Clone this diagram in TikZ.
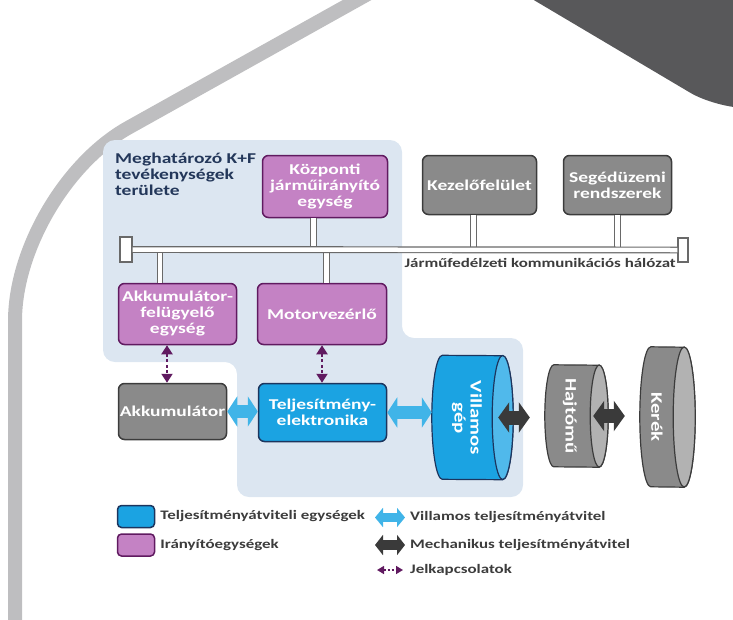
\documentclass[tikz,border=0pt]{standalone}
\usepackage{fontspec}
\setmainfont[FakeStretch=1.3]{Carlito}
\usetikzlibrary{positioning,arrows.meta}

\definecolor{ctrlfill}{RGB}{196,130,196}
\definecolor{ctrldraw}{RGB}{96,26,96}
\definecolor{powfill}{RGB}{27,163,226}
\definecolor{powend}{RGB}{80,185,235}
\definecolor{powdraw}{RGB}{28,53,94}
\definecolor{othfill}{RGB}{138,138,138}
\definecolor{othend}{RGB}{178,178,178}
\definecolor{othdraw}{RGB}{60,60,60}
\definecolor{zone}{RGB}{220,230,241}
\definecolor{zonetext}{RGB}{35,55,90}
\definecolor{elecblue}{RGB}{64,180,232}
\definecolor{mechgray}{RGB}{58,58,58}
\definecolor{busgray}{RGB}{105,105,105}
\definecolor{band}{RGB}{190,190,192}
\definecolor{corner}{RGB}{88,88,90}
\definecolor{legtext}{RGB}{60,60,60}

\begin{document}
\begin{tikzpicture}[x=1pt,y=-1pt,
   box/.style={rounded corners=6pt,line width=1.5pt,text=white,align=center,
      inner sep=1pt,font=\bfseries\fontsize{15}{16}\selectfont},
   ctrl/.style={box,fill=ctrlfill,draw=ctrldraw},
   power/.style={box,fill=powfill,draw=powdraw},
   other/.style={box,fill=othfill,draw=othdraw},
   drumtxt/.style={rotate=-90,text=white,align=center,
      font=\bfseries\fontsize{16}{16}\selectfont},
   term/.style={draw=busgray,fill=white,line width=1.2pt,inner sep=0pt},
   bus/.style={draw=busgray,line width=1.2pt,double=white,double distance=4.5pt},
   elec/.style={elecblue,line width=13pt,
      {Triangle[length=10pt,width=30pt]}-{Triangle[length=10pt,width=30pt]}},
   mech/.style={mechgray,line width=14pt,
      {Triangle[length=11pt,width=30pt]}-{Triangle[length=11pt,width=30pt]}},
   sig/.style={ctrldraw,line width=2pt,dash pattern=on 3pt off 2.5pt,
      {Triangle[length=9pt,width=11pt]}-{Triangle[length=9pt,width=11pt]}},
   legtxt/.style={text=legtext,font=\bfseries\fontsize{13}{14}\selectfont,inner sep=1pt}
]
   \useasboundingbox (0,0) rectangle (733,619);
   % background
   \draw[band,line width=14pt,rounded corners=130pt] (375,-10) -- (15,191) -- (15,640);
   \fill[corner] (500,-20) [rounded corners=30pt] -- (716,108) [sharp corners] -- (760,108) -- (760,-20) -- cycle;
   \fill[zone,rounded corners=12pt] (103,140) -- (402,140) -- (402,338) -- (523,338) -- (523,497)
      -- (237,497) -- (237,362) -- (103,362) -- cycle;
   \node[anchor=north west,align=left,text=zonetext,inner sep=0pt,
      font=\bfseries\fontsize{15}{16}\selectfont] (zonelbl) at (115,153)
      {Meghatározó K+F\\tevékenységek\\területe};

   % units
   \node[ctrl,minimum width=125pt,minimum height=62pt] (kozp) at (325,186.5) {Központi\\járműirányító\\egység};
   \node[other,minimum width=114pt,minimum height=59pt] (kezelo) at (479.5,185) {Kezelőfelület};
   \node[other,minimum width=108pt,minimum height=59pt] (seged) at (617.5,185) {Segédüzemi\\rendszerek};
   \node[ctrl,minimum width=118pt,minimum height=61pt] (akkfel) at (177.5,314) {Akkumulátor-\\felügyelő\\egység};
   \node[ctrl,minimum width=129pt,minimum height=61pt] (motor) at (322,314) {Motorvezérlő};
   \node[other,minimum width=108pt,minimum height=56pt] (akku) at (172.5,411.5) {Akkumulátor};
   \node[power,minimum width=128pt,minimum height=58pt] (telj) at (322.5,412.5) {Teljesítmény-\\elektronika};

   % drums: name/x/y/length/x radius/y radius/colours
   \foreach \n/\cx/\cy/\len/\rx/\ry/\bodyc/\endc/\edgec in
      {villamos/472.5/417.5/81/10.5/62/powfill/powend/powdraw,
       hajto/576.5/416/63/9/51/othfill/othend/othdraw,
       kerek/667.5/417/55/11/70/othfill/othend/othdraw}{
      \node[minimum width=\len pt,minimum height=2*\ry pt,inner sep=0pt] (\n) at (\cx,\cy) {};
      \filldraw[fill=\bodyc,draw=\edgec,line width=1.2pt]
         ([xshift=\rx pt]\n.north west) arc[start angle=90,end angle=270,x radius=\rx pt,y radius=\ry pt]
         -- ([xshift=-\rx pt]\n.south east) arc[start angle=-90,end angle=90,x radius=\rx pt,y radius=\ry pt]
         -- cycle;
      \filldraw[fill=\endc,draw=\edgec,line width=1.2pt]
         ([xshift=-\rx pt]\n.east) ellipse[x radius=\rx pt,y radius=\ry pt];
   }
   \node[drumtxt] (villamostxt) at (467,418) {Villamos\\gép};
   \node[drumtxt] (hajtotxt) at (570,416) {Hajtómű};
   \node[drumtxt] (kerektxt) at (657,417) {Kerék};

   % network
   \node[term,minimum width=12pt,minimum height=25pt] (busl) at (126,249.5) {};
   \node[term,minimum width=10pt,minimum height=24pt] (busr) at (683,250) {};
   \draw[bus] ([xshift=-11.5pt]kozp.south) -- ([xshift=-11.5pt]kozp.south |- busl.center);
   \draw[bus] ([xshift=-6pt]kezelo.south) -- ([xshift=-6pt]kezelo.south |- busl.center);
   \draw[bus] (seged.south) -- (seged.south |- busl.center);
   \draw[bus] ([xshift=-17.5pt]akkfel.north) -- ([xshift=-17.5pt]akkfel.north |- busl.center);
   \draw[bus] ([xshift=4.5pt]motor.north) -- ([xshift=4.5pt]motor.north |- busl.center);
   \draw[bus] (busl.east) -- (busr.west);
   \node[anchor=base east,text=legtext,inner sep=0pt,
      font=\bfseries\fontsize{13}{14}\selectfont] (netlbl) at (676,267)
      {Járműfedélzeti kommunikációs hálózat};

   % links
   \draw[sig] ([xshift=-10.5pt]akkfel.south) -- ([xshift=-10.5pt]akkfel.south |- akku.north);
   \draw[sig] (motor.south) -- (motor.south |- telj.north);
   \draw[elec] (akku.east) -- (akku.east -| telj.west);
   \draw[elec] (telj.east) -- (telj.east -| villamos.west);
   \draw[mech] ([xshift=-15pt]villamos.east) -- ([xshift=-15pt]villamos.east -| hajto.west);
   \draw[mech] ([xshift=-15pt]hajto.east) -- ([xshift=-15pt]hajto.east -| kerek.west);

   % legend
   \node[power,rounded corners=4pt,minimum width=37pt,minimum height=22pt] (legpow) at (136,516.5) {};
   \node[ctrl,rounded corners=4pt,minimum width=37pt,minimum height=22pt] (legctrl) at (136,545) {};
   \node[legtxt,right=4pt of legpow] (legpowtxt) {Teljesítményátviteli egységek};
   \node[legtxt,right=4pt of legctrl] (legctrltxt) {Irányítóegységek};
   \coordinate (le1) at (375,517.5);
   \coordinate (le2) at (405,517.5);
   \coordinate (lm1) at (375,545);
   \coordinate (lm2) at (405,545);
   \coordinate (ls1) at (377,570);
   \coordinate (ls2) at (403,570);
   \draw[elecblue,line width=9pt,{Triangle[length=8pt,width=19pt]}-{Triangle[length=8pt,width=19pt]}] (le1) -- (le2);
   \draw[mechgray,line width=10pt,{Triangle[length=8pt,width=20pt]}-{Triangle[length=8pt,width=20pt]}] (lm1) -- (lm2);
   \draw[ctrldraw,line width=1.5pt,dash pattern=on 2pt off 2pt,
      {Triangle[length=7pt,width=8pt]}-{Triangle[length=7pt,width=8pt]}] (ls1) -- (ls2);
   \node[legtxt,anchor=west] (legelectxt) at (409,517.5) {Villamos teljesítményátvitel};
   \node[legtxt,anchor=west] (legmechtxt) at (409,545) {Mechanikus teljesítményátvitel};
   \node[legtxt,anchor=west] (legsigtxt) at (409,570) {Jelkapcsolatok};
\end{tikzpicture}
\end{document}
